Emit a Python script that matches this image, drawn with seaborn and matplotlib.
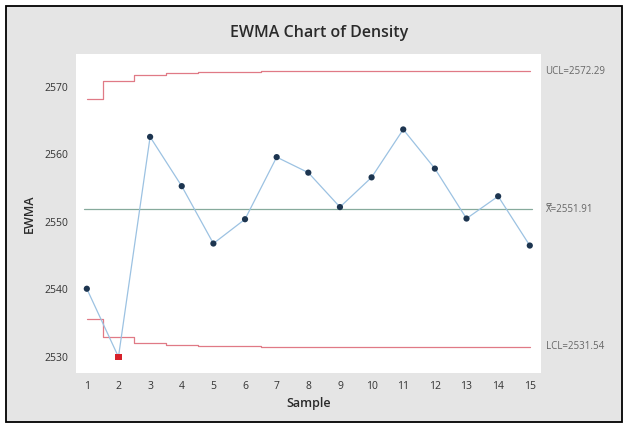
import numpy as np
import pandas as pd
import seaborn as sns
import matplotlib.pyplot as plt
from matplotlib.patches import Rectangle

# EWMA values
samples = list(range(1, 16))
ewma = [2540.1, 2530.0, 2562.6, 2555.3, 2546.8, 2550.4, 2559.6, 2557.3,
        2552.2, 2556.6, 2563.7, 2557.9, 2550.5, 2553.8, 2546.5]
ucl = [2568.2, 2570.9, 2571.8, 2572.1, 2572.23, 2572.27, 2572.29, 2572.29,
       2572.29, 2572.29, 2572.29, 2572.29, 2572.29, 2572.29, 2572.29]
lcl = [2535.6, 2532.9, 2532.0, 2531.7, 2531.6, 2531.56, 2531.54, 2531.54,
       2531.54, 2531.54, 2531.54, 2531.54, 2531.54, 2531.54, 2531.54]
center = 2551.91
out_of_control = [2]
yticks = [2530, 2540, 2550, 2560, 2570]

df = pd.DataFrame({"Sample": samples, "EWMA": ewma, "UCL": ucl, "LCL": lcl})
df["flag"] = df["Sample"].isin(out_of_control)

sns.set_theme(style="white")
plt.rcParams["font.family"] = ["Open Sans", "DejaVu Sans"]

fig = plt.figure(figsize=(6.26, 4.24), dpi=100)
fig.patch.set_facecolor("white")
fig.patches.append(Rectangle((0.009, 0.004), 0.985, 0.982, transform=fig.transFigure,
                             facecolor="#e5e5e5", edgecolor="black", linewidth=1.3, zorder=-1))
ax = fig.add_axes([0.121, 0.12, 0.743, 0.753])
ax.set_facecolor("white")

# control limits as steps
ax.plot(df["Sample"], df["UCL"], drawstyle="steps-mid", color="#e07a86", lw=0.9)
ax.plot(df["Sample"], df["LCL"], drawstyle="steps-mid", color="#e07a86", lw=0.9)
ax.axhline(center, xmin=0.017, xmax=0.98, color="#86aa9c", lw=0.9)

sns.lineplot(data=df, x="Sample", y="EWMA", color="#9cc2e2", lw=0.9, ax=ax)
sns.scatterplot(data=df[~df["flag"]], x="Sample", y="EWMA", color="#1d3550",
                s=20, edgecolor="none", ax=ax, zorder=5)
sns.scatterplot(data=df[df["flag"]], x="Sample", y="EWMA", color="#d6202a",
                marker="s", s=24, edgecolor="none", ax=ax, zorder=5)

ax.set_xlim(0.65, 15.35)
ax.set_ylim(2527.6, 2574.9)
ax.set_xticks(samples)
ax.set_yticks(yticks)
ax.tick_params(labelsize=7.5, colors="#333333", length=2, width=0.6)
for s in ax.spines.values():
    s.set_visible(False)

ax.set_xlabel("Sample", fontsize=9, fontweight="semibold", color="#2a2a2a", labelpad=4)
ax.set_ylabel("EWMA", fontsize=9, fontweight="semibold", color="#2a2a2a", labelpad=6)
fig.text(0.51, 0.922, "EWMA Chart of Density", ha="center", va="center",
         fontsize=11.5, fontweight="semibold", color="#2a2a2a")

lab_kw = dict(fontsize=7, color="#666666", va="center", ha="left", clip_on=False)
ax.text(15.5, ucl[-1], "UCL=2572.29", **lab_kw)
ax.text(15.5, center, "X\u033f=2551.91", **lab_kw)
ax.text(15.5, lcl[-1], "LCL=2531.54", **lab_kw)

fig.savefig("out.png", dpi=100)
